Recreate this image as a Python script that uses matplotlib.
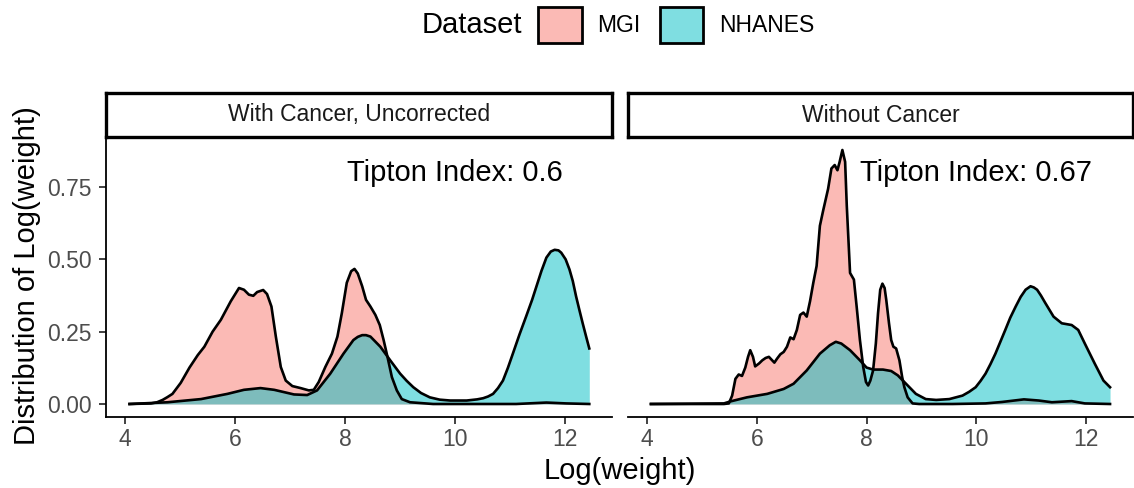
import matplotlib

matplotlib.use("Agg")
import matplotlib.pyplot as plt  # noqa: E402
from matplotlib.colors import to_rgba  # noqa: E402
from matplotlib.patches import Patch  # noqa: E402

plt.rcParams["font.family"] = ["Liberation Sans", "DejaVu Sans"]

# density of log(weight)
# panel 1: with cancer, uncorrected
cancer_mgi_x = [4.08, 4.47, 4.58, 4.68, 4.77, 4.86, 5.01, 5.17, 5.32, 5.44, 5.59, 5.74, 5.92,
                6.07, 6.16, 6.25, 6.33, 6.40, 6.51, 6.58, 6.66, 6.74, 6.83, 6.92, 7.04, 7.19,
                7.34, 7.43, 7.52, 7.64, 7.76, 7.86, 7.94, 8.03, 8.11, 8.17, 8.23, 8.31, 8.38,
                8.46, 8.55, 8.63, 8.70, 8.77, 8.85, 8.94, 9.03, 9.18, 9.60, 10.21, 11.11, 11.66,
                12.02, 12.44]
cancer_mgi_y = [0.0, 0.002, 0.006, 0.014, 0.024, 0.035, 0.073, 0.126, 0.169, 0.198, 0.25, 0.291,
                0.355, 0.401, 0.395, 0.378, 0.374, 0.387, 0.394, 0.380, 0.337, 0.233, 0.128,
                0.081, 0.062, 0.055, 0.047, 0.049, 0.076, 0.128, 0.174, 0.233, 0.314, 0.419,
                0.459, 0.467, 0.451, 0.407, 0.360, 0.337, 0.308, 0.273, 0.221, 0.163, 0.093,
                0.047, 0.017, 0.006, 0.0, 0.0, 0.0, 0.005, 0.002, 0.0]
cancer_nhanes_x = [4.08, 4.77, 5.38, 5.86, 6.16, 6.46, 6.71, 7.07, 7.31, 7.49, 7.73, 7.97, 8.15,
                   8.23, 8.31, 8.38, 8.46, 8.64, 8.82, 9.00, 9.12, 9.24, 9.38, 9.54, 9.72, 9.91,
                   10.21, 10.40, 10.51, 10.60, 10.69, 10.78, 10.87, 10.96, 11.05, 11.17, 11.29,
                   11.40, 11.48, 11.57, 11.66, 11.74, 11.81, 11.88, 11.93, 12.01, 12.08, 12.14,
                   12.20, 12.26, 12.32, 12.38, 12.44]
cancer_nhanes_y = [0.0, 0.006, 0.017, 0.035, 0.049, 0.055, 0.049, 0.033, 0.031, 0.047, 0.105,
                   0.174, 0.221, 0.232, 0.238, 0.238, 0.233, 0.198, 0.151, 0.105, 0.080, 0.058,
                   0.038, 0.023, 0.015, 0.012, 0.012, 0.016, 0.020, 0.026, 0.035, 0.055, 0.081,
                   0.125, 0.174, 0.240, 0.302, 0.360, 0.407, 0.460, 0.506, 0.527, 0.533, 0.531,
                   0.523, 0.500, 0.465, 0.425, 0.372, 0.325, 0.279, 0.235, 0.192]

# panel 2: without cancer
nocancer_mgi_x = [4.07, 4.74, 5.40, 5.49, 5.55, 5.61, 5.67, 5.73, 5.79, 5.84, 5.88, 5.93, 5.97,
                  6.04, 6.10, 6.16, 6.22, 6.28, 6.32, 6.37, 6.43, 6.49, 6.55, 6.61, 6.67, 6.73,
                  6.79, 6.85, 6.91, 6.97, 7.03, 7.09, 7.15, 7.21, 7.30, 7.36, 7.42, 7.47, 7.51,
                  7.56, 7.61, 7.64, 7.70, 7.77, 7.82, 7.88, 7.94, 7.99, 8.03, 8.07, 8.12, 8.17,
                  8.21, 8.25, 8.29, 8.33, 8.36, 8.41, 8.45, 8.49, 8.54, 8.60, 8.65, 8.69, 8.75,
                  8.84, 8.96, 9.57, 10.17, 10.47, 10.87, 11.14, 11.38, 11.74, 11.98, 12.44]
nocancer_mgi_y = [0.0, 0.0, 0.0, 0.002, 0.029, 0.087, 0.102, 0.097, 0.126, 0.163, 0.186, 0.163,
                  0.130, 0.140, 0.151, 0.159, 0.163, 0.151, 0.143, 0.157, 0.172, 0.180, 0.198,
                  0.230, 0.224, 0.256, 0.308, 0.316, 0.302, 0.355, 0.419, 0.477, 0.616, 0.669,
                  0.744, 0.814, 0.826, 0.808, 0.837, 0.878, 0.837, 0.686, 0.453, 0.430, 0.337,
                  0.221, 0.128, 0.076, 0.064, 0.081, 0.116, 0.209, 0.314, 0.395, 0.416, 0.401,
                  0.360, 0.279, 0.221, 0.198, 0.192, 0.151, 0.093, 0.058, 0.023, 0.002, 0.0,
                  0.0, 0.002, 0.007, 0.016, 0.012, 0.006, 0.010, 0.002, 0.0]
nocancer_nhanes_x = [4.07, 5.40, 5.52, 5.82, 6.19, 6.49, 6.67, 6.91, 7.15, 7.33, 7.44, 7.54, 7.70,
                     7.88, 8.00, 8.12, 8.30, 8.45, 8.57, 8.72, 8.90, 9.08, 9.27, 9.51, 9.75, 9.87,
                     9.99, 10.08, 10.17, 10.26, 10.35, 10.44, 10.53, 10.62, 10.72, 10.81, 10.90,
                     10.99, 11.05, 11.11, 11.18, 11.26, 11.41, 11.56, 11.74, 11.86, 11.98, 12.16,
                     12.32, 12.44]
nocancer_nhanes_y = [0.0, 0.002, 0.009, 0.023, 0.035, 0.052, 0.070, 0.116, 0.174, 0.203, 0.215,
                     0.209, 0.186, 0.151, 0.126, 0.119, 0.119, 0.114, 0.099, 0.070, 0.035, 0.017,
                     0.014, 0.017, 0.029, 0.042, 0.058, 0.080, 0.105, 0.138, 0.174, 0.215, 0.256,
                     0.298, 0.337, 0.370, 0.395, 0.407, 0.403, 0.395, 0.375, 0.349, 0.302, 0.279,
                     0.273, 0.256, 0.209, 0.140, 0.081, 0.058]

panel_titles = ["With Cancer, Uncorrected", "Without Cancer"]
tipton_index = [0.6, 0.67]
datasets = ["MGI", "NHANES"]
colors = ["#F8766D", "#00BFC4"]
x_ticks = [4, 6, 8, 10, 12]
y_ticks = [0.0, 0.25, 0.50, 0.75]

panels = [
    [(cancer_mgi_x, cancer_mgi_y), (cancer_nhanes_x, cancer_nhanes_y)],
    [(nocancer_mgi_x, nocancer_mgi_y), (nocancer_nhanes_x, nocancer_nhanes_y)],
]

# shared limits, 5% padding like ggplot
all_x = [v for p in panels for xs, _ in p for v in xs]
all_y = [v for p in panels for _, ys in p for v in ys]
xr = max(all_x) - min(all_x)
yr = max(all_y) - min(all_y)
xlim = (min(all_x) - 0.05 * xr, max(all_x) + 0.05 * xr)
ylim = (min(all_y) - 0.05 * yr, max(all_y) + 0.05 * yr)

W, H = 1134, 488
fig = plt.figure(figsize=(W / 100, H / 100), dpi=100)

# panel boxes in pixels (left, right), top/bottom shared
panel_px = [(106, 612.3), (628, 1133)]
top_px, bottom_px, strip_top_px = 137.3, 416.7, 92.7

for i, (data, title, tip) in enumerate(zip(panels, panel_titles, tipton_index)):
    l, r = panel_px[i]
    ax = fig.add_axes([l / W, 1 - bottom_px / H, (r - l) / W, (bottom_px - top_px) / H])
    for (xs, ys), c in zip(data, colors):
        ax.fill_between(xs, 0, ys, color=c, alpha=0.5, linewidth=0)
        ax.plot(xs, ys, color="black", lw=1.9, solid_joinstyle="round")
    ax.text(10, 0.8, f"Tipton Index: {tip}", ha="center", va="center", fontsize=21)
    ax.set_xlim(xlim)
    ax.set_ylim(ylim)
    ax.set_xticks(x_ticks)
    ax.set_yticks(y_ticks)
    ax.set_yticklabels([f"{v:.2f}" for v in y_ticks])
    for s in ["top", "right"]:
        ax.spines[s].set_visible(False)
    ax.spines["bottom"].set_linewidth(1.3)
    ax.spines["left"].set_linewidth(1.3)
    ax.tick_params(length=5, width=1.3, color="#333333", labelcolor="#4D4D4D",
                   labelsize=16.5, pad=3)
    ax.tick_params(axis="y", pad=5)
    if i > 0:
        ax.spines["left"].set_visible(False)
        ax.tick_params(axis="y", left=False, labelleft=False)

    # facet strip
    sax = fig.add_axes([l / W, 1 - top_px / H, (r - l) / W, (top_px - strip_top_px) / H])
    sax.set_xticks([])
    sax.set_yticks([])
    for s in sax.spines.values():
        s.set_linewidth(2.4)
        s.set_color("black")
    sax.text(0.5, 0.5, title, ha="center", va="center", fontsize=16.5,
             color="#1A1A1A", transform=sax.transAxes)

fig.text(619.5 / W, 1 - 471 / H, "Log(weight)", ha="center", va="center", fontsize=21)
fig.text(27 / W, 1 - 276 / H, "Distribution of Log(weight)", ha="center", va="center",
         rotation=90, fontsize=21)

# legend on top
fig.text(472 / W, 1 - 25 / H, "Dataset", ha="center", va="center", fontsize=21)
handles = [Patch(facecolor=to_rgba(c, 0.5), edgecolor="black", linewidth=2.0, label=d)
           for c, d in zip(colors, datasets)]
fig.legend(handles=handles, loc="center left", bbox_to_anchor=(538 / W, 1 - 25 / H),
           ncol=2, frameon=False, fontsize=16.5, handlelength=1.9, handleheight=2.1,
           handletextpad=0.68, columnspacing=0.85, borderpad=0, borderaxespad=0)

fig.savefig("out.png", dpi=100)
